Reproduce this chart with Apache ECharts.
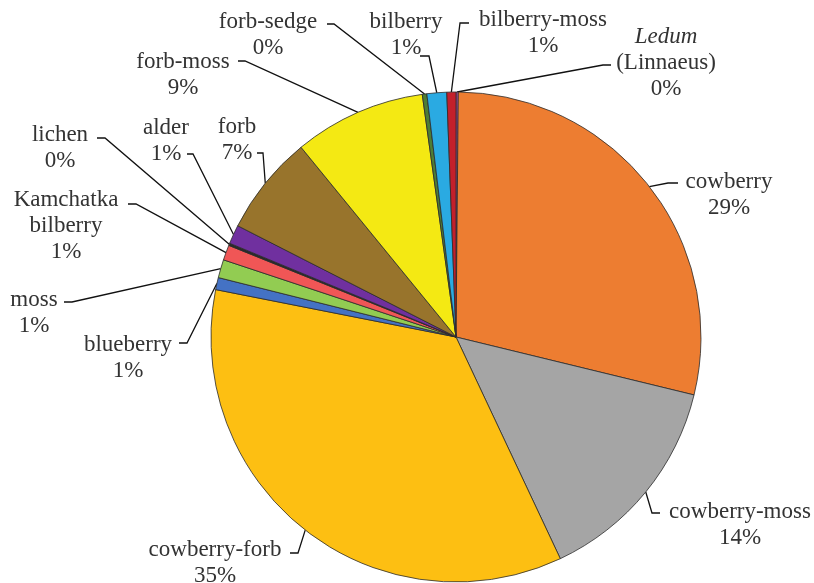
<!DOCTYPE html>
<html>
<head>
<meta charset="utf-8">
<script src="https://cdn.jsdelivr.net/npm/echarts@6/dist/echarts.min.js"></script>
<style>
  html, body { margin: 0; padding: 0; background: #ffffff; }
  #chart { width: 814px; height: 583px; }
</style>
</head>
<body>
<div id="chart"></div>
<script>
// Plant community types, clockwise from twelve o'clock
const communities = [
  'Ledum (Linnaeus)', 'cowberry', 'cowberry-moss', 'cowberry-forb', 'blueberry',
  'moss', 'Kamchatka bilberry', 'lichen', 'alder', 'forb',
  'forb-moss', 'forb-sedge', 'bilberry', 'bilberry-moss'
];
// Label text for each community (line breaks as printed)
const labelNames = [
  '{it|Ledum}\n(Linnaeus)', 'cowberry', 'cowberry-moss', 'cowberry-forb', 'blueberry',
  'moss', 'Kamchatka\nbilberry', 'lichen', 'alder', 'forb',
  'forb-moss', 'forb-sedge', 'bilberry', 'bilberry-moss'
];
// Share of area, percent
const shares = [0.15, 28.65, 14.2, 35.1, 0.8, 1.2, 1.0, 0.15, 1.25, 6.6, 8.7, 0.3, 1.3, 0.6];

const sliceColors = [
  '#B04FA6', '#ED7D31', '#A5A5A5', '#FDBF12', '#4472C4',
  '#92CC52', '#F05656', '#2A2A2A', '#70309F', '#98742C',
  '#F4E913', '#4E7D34', '#2AAAE2', '#C3202B'
];

// Label placement: [centre x, top y, elbow x, elbow y, end x, end y]
const labelSpots = [
  [666, 24, 603, 65, 611, 65],
  [729, 169, 668, 183, 678, 183],
  [740, 499, 652, 513, 660, 513],
  [215, 537, 298, 553, 290, 553],
  [128, 332, 187, 343, 179, 343],
  [34, 287, 72, 302, 64, 302],
  [66, 187, 136, 204, 128, 204],
  [60, 122, 105, 138, 97, 138],
  [166, 115, 193, 154, 187, 154],
  [237, 114, 263, 153, 257, 153],
  [183, 49, 245, 61, 238, 61],
  [268, 9, 334, 24, 327, 24],
  [406, 9, 429, 56, 420, 56],
  [543, 7, 460, 23, 469, 23]
];

const chart = echarts.init(document.getElementById('chart'), null, { renderer: 'canvas' });

const pieData = communities.map((name, i) => ({
  name: name,
  value: shares[i],
  itemStyle: { color: sliceColors[i] },
  label: { formatter: labelNames[i] + '\n' + Math.round(shares[i]) + '%' }
}));

chart.setOption({
  animation: false,
  backgroundColor: '#ffffff',
  series: [{
    type: 'pie',
    center: [456, 337],
    radius: 245,
    startAngle: 90,
    clockwise: true,
    avoidLabelOverlap: false,
    minAngle: 0,
    data: pieData,
    itemStyle: { borderColor: '#2b2b2b', borderWidth: 0.8 },
    emphasis: { disabled: true },
    label: {
      show: true,
      position: 'outside',
      overflow: 'none',
      fontFamily: 'Liberation Serif',
      fontSize: 23,
      lineHeight: 26,
      color: '#333333',
      align: 'center',
      rich: {
        it: { fontFamily: 'Liberation Serif', fontStyle: 'italic', fontSize: 23, lineHeight: 26, color: '#333333' }
      }
    },
    labelLine: {
      show: true,
      length: 10,
      length2: 10,
      lineStyle: { color: '#111111', width: 1.3 }
    },
    labelLayout: function (p) {
      const s = labelSpots[p.dataIndex];
      const out = { x: s[0], y: s[1], align: 'center', verticalAlign: 'top' };
      if (p.labelLinePoints && p.labelLinePoints.length) {
        out.labelLinePoints = [p.labelLinePoints[0], [s[2], s[3]], [s[4], s[5]]];
      }
      return out;
    }
  }]
});
</script>
</body>
</html>
